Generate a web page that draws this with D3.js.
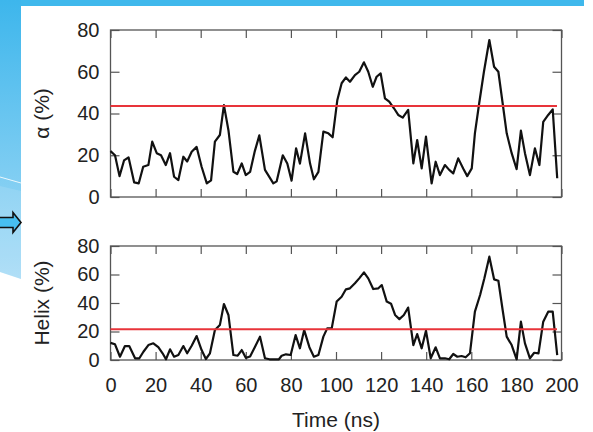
<!doctype html>
<html>
  <head>
    <meta charset='utf-8'>
    <script src="https://d3js.org/d3.v7.min.js"></script>
    <style>
      body { margin: 0; background: #fff; }
      text { font-family: "Liberation Sans", Arial, sans-serif; fill: #222; }
    </style>
  </head>

  <body>
  <svg width="593" height="432"></svg>

  <script>
    // alpha (%) vs time (ns)
    const alphaSeries = [
      [0,22],[2,20],[4,10],[6,17.5],[8,19],[10.5,7],[12.5,6.5],[14.5,14.5],[16.8,15.3],[18.5,26.5],
      [20.5,21],[22.4,20],[24.5,15.3],[26.4,21],[28.2,9.7],[30.1,8.1],[32.3,19.3],[34,17],[36,21.7],[38.2,24],
      [40.4,14.5],[42.7,6.5],[44.6,8],[46.3,26.5],[48.5,29.7],[50.3,44],[52.3,32],[54.5,12.1],[56.2,11],[58.2,16.1],
      [60,10.5],[61.9,12],[64,22],[66,29.5],[68.5,13],[72.2,6.5],[73.7,7.5],[76.4,20],[78.4,16],[80.3,7.8],
      [82.3,23.3],[84,16],[86.3,30.5],[88.5,16],[90.2,8.5],[92.2,12],[94.4,31.3],[96.6,30.5],[98.5,28.6],[100.6,46.5],
      [102.5,54.5],[104.4,57.3],[106.2,55.2],[108.4,58.4],[110.3,60],[112.4,64.5],[114.3,60],[116.3,52.8],[118,57.6],[119.8,59.2],
      [121.7,47.3],[123.6,45.7],[125.7,42.5],[127.6,39.3],[129.6,38],[132,41.7],[134.3,16.1],[136,27.3],[138,13.7],[139.9,28.9],
      [142.4,6.5],[144.2,16.9],[146.1,10.5],[148.3,15.3],[150.2,13],[152,11.3],[154.2,18.5],[156.4,13.7],[158.2,10],[160.2,13.7],
      [161.6,30.5],[163.5,44.9],[165.6,60],[168,75.2],[170.1,62.4],[172,60],[173.9,44.9],[175.7,30.5],[177.9,21],[180.1,13.3],
      [182,31.8],[183.8,21],[186,10.5],[188.2,23.3],[190.2,15.3],[191.9,36],[194.1,39.3],[196.1,42],[198.1,9]
    ];

    // helix (%) vs time (ns), lower panel
    const helixSeries = [
      [0,12],[2,11],[4.2,2.3],[6.4,9.8],[8.3,9.8],[10.9,1.2],[12.8,1.2],[14.6,5.8],[16.8,10.5],[19,11.7],
      [21.2,9],[23.1,4.7],[24.6,0.5],[26.4,7.5],[28.2,2.3],[30.1,3.5],[32.3,9.8],[34,4.7],[36,10],[38.2,16.8],
      [40.4,7],[42.3,0.7],[44.1,4.7],[46.3,21],[48.5,24.5],[50.3,39.3],[52.3,31.6],[54.5,3.5],[56.4,3],[58.2,7],
      [60,1.5],[61.9,2.5],[64.1,9.3],[66.3,16.4],[68.5,1.2],[70.5,0.5],[72.6,0.5],[74.7,0.5],[75.9,3],[77.8,4],
      [79.9,3.5],[82.1,17.5],[84,8.2],[85.9,21],[88.2,9],[90.2,2.3],[92.2,3.5],[94.4,16.4],[96.1,22.2],[98.1,22.2],
      [100.3,41],[102.5,44.4],[104.4,49.6],[106.2,50.3],[108.4,53.8],[110.3,57.3],[112.4,61.5],[114.3,57.3],[116.5,49.8],[118.8,50.3],
      [120.3,52.6],[122.5,41],[124.4,39.5],[126.2,31.6],[128.1,28.7],[130.1,31.6],[132,36.8],[134.3,10.5],[136,18.2],[138,8.2],
      [139.9,20.6],[142,1.2],[144.2,8.9],[146.1,1.2],[148.3,1.2],[150.2,0.5],[152,4.2],[153.8,2.3],[155.7,2.8],[157.5,1.9],
      [159.4,4.7],[161.6,33.9],[163.9,45.6],[165.8,57.3],[168,72.5],[170.1,56.6],[172,55.6],[173.9,35.1],[175.7,16.4],[177.9,10.5],
      [180.1,0.5],[182,26.9],[183.8,11.7],[186,1.2],[187.9,5.1],[189.8,4.7],[191.9,26.9],[194.1,33.9],[196.1,33.9],[198.1,3.5]
    ];

    const alphaMean = 43.6;
    const helixMean = 21.5;
    const meanSpan = [0, 198];

    const xTicks = [0, 20, 40, 60, 80, 100, 120, 140, 160, 180, 200];
    const yTicks = [0, 20, 40, 60, 80];

    const svg = d3.select("svg");

    // --- slide decoration behind the figure ---
    const defs = svg.append("defs");
    const grad = defs.append("linearGradient")
      .attr("id", "side").attr("x1", 0).attr("y1", 0).attr("x2", 0).attr("y2", 1);
    grad.append("stop").attr("offset", "0%").attr("stop-color", "#3db6ec");
    grad.append("stop").attr("offset", "100%").attr("stop-color", "#a6dbf6");

    svg.append("rect").attr("x", 0).attr("y", 0).attr("width", 584).attr("height", 6)
      .attr("fill", "#3fb8ec");
    svg.append("path").attr("d", "M0,0H21V279L0,272Z").attr("fill", "url(#side)");
    svg.append("path").attr("d", "M0,186L21,191V279L0,272Z").attr("fill", "#fff").attr("opacity", 0.12);
    svg.append("line").attr("x1", 0).attr("y1", 177).attr("x2", 21).attr("y2", 183)
      .attr("stroke", "#fff").attr("stroke-width", 1).attr("opacity", 0.85);
    svg.append("path")
      .attr("d", "M-2,217.5H13V212.5L21,222.5L13,232.5V227.5H-2Z")
      .attr("fill", "#47bff1").attr("stroke", "#111").attr("stroke-width", 1.6);

    // --- panels ---
    const x = d3.scaleLinear().domain([0, 200]).range([110.5, 561.5]);

    const drawPanel = (top, bottom, series, mean, label, withXLabels) => {
      const y = d3.scaleLinear().domain([0, 80]).range([bottom, top]);
      const g = svg.append("g");

      const tickStyle = (sel) => {
        sel.select(".domain").remove();
        sel.selectAll(".tick line").attr("stroke", "#555").attr("stroke-width", 1.2);
        sel.selectAll("text").style("font-size", "20px").attr("fill", "#222");
      };

      g.append("g")
        .attr("transform", `translate(${x.range()[0]},0)`)
        .call(d3.axisLeft(y).tickValues(yTicks).tickSize(-9).tickPadding(11))
        .call(tickStyle);
      g.append("g")
        .attr("transform", `translate(${x.range()[1]},0)`)
        .call(d3.axisRight(y).tickValues(yTicks).tickSize(-9).tickFormat(""))
        .call(tickStyle);
      g.append("g")
        .attr("transform", `translate(0,${bottom})`)
        .call(d3.axisBottom(x).tickValues(xTicks).tickSize(-8).tickPadding(18)
          .tickFormat(withXLabels ? d3.format("d") : ""))
        .call(tickStyle);
      g.append("g")
        .attr("transform", `translate(0,${top})`)
        .call(d3.axisTop(x).tickValues(xTicks).tickSize(-8).tickFormat(""))
        .call(tickStyle);

      g.append("rect")
        .attr("x", x.range()[0]).attr("y", top)
        .attr("width", x.range()[1] - x.range()[0]).attr("height", bottom - top)
        .attr("fill", "none").attr("stroke", "#555").attr("stroke-width", 1.3);

      g.append("path")
        .datum(series)
        .attr("fill", "none")
        .attr("stroke", "#111")
        .attr("stroke-width", 2.2)
        .attr("stroke-linejoin", "round")
        .attr("d", d3.line().x((d) => x(d[0])).y((d) => y(d[1])));

      g.append("line")
        .attr("x1", x(meanSpan[0])).attr("x2", x(meanSpan[1]))
        .attr("y1", y(mean)).attr("y2", y(mean))
        .attr("stroke", "#e8343a").attr("stroke-width", 2);

      g.append("text")
        .attr("transform", `translate(49,${(top + bottom) / 2}) rotate(-90)`)
        .attr("text-anchor", "middle")
        .style("font-size", "21px")
        .text(label);
    };

    drawPanel(30, 197, alphaSeries, alphaMean, "α (%)", false);
    drawPanel(246, 360, helixSeries, helixMean, "Helix (%)", true);

    svg.append("text")
      .attr("x", 336).attr("y", 427)
      .attr("text-anchor", "middle")
      .style("font-size", "21px")
      .text("Time (ns)");
  </script>
  </body>
</html>
